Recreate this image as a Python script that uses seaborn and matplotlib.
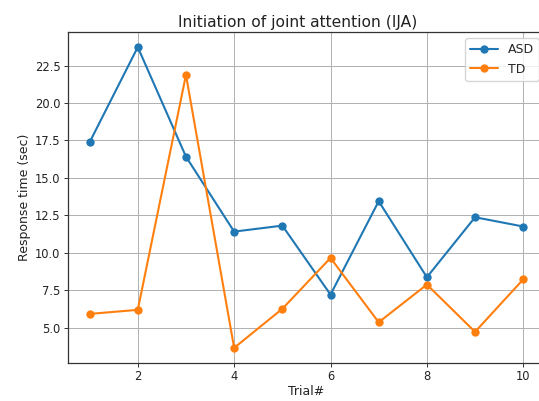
import matplotlib
matplotlib.use("Agg")
import matplotlib.pyplot as plt
import seaborn as sns
import pandas as pd
from matplotlib.ticker import MultipleLocator

trials = [1, 2, 3, 4, 5, 6, 7, 8, 9, 10]
asd = [17.38, 23.74, 16.42, 11.41, 11.81, 7.2, 13.44, 8.36, 12.37, 11.75]
td = [5.91, 6.18, 21.88, 3.64, 6.25, 9.65, 5.35, 7.87, 4.71, 8.22]
series_names = ["ASD", "TD"]
colors = ["#1f77b4", "#ff7f0e"]

sns.set_theme(style="ticks", rc={"axes.grid": True})
plt.rcParams["font.family"] = ["DejaVu Sans"]

fig = plt.figure(figsize=(5.39, 4.01), dpi=100)
ax = fig.add_axes([0.126, 0.095, 0.885, 0.825])

for name, vals, c in zip(series_names, [asd, td], colors):
    df = pd.DataFrame({"Trial": trials, "val": vals})
    sns.lineplot(data=df, x="Trial", y="val", ax=ax, color=c, marker="o",
                 markersize=6, markeredgewidth=0, markeredgecolor=c,
                 linewidth=1.5, label=name)

ax.xaxis.set_major_locator(MultipleLocator(2))
ax.yaxis.set_major_locator(MultipleLocator(2.5))
ax.margins(x=0.05, y=0.05)
ax.grid(True, color="#b0b0b0", linewidth=0.7)
for s in ax.spines.values():
    s.set_color("#333333")
    s.set_linewidth(0.9)
ax.tick_params(axis="both", labelsize=8.3, length=2.8, width=0.7, color="#333333", labelcolor="#222222", pad=2.5)
ax.set_xlabel("Trial#", fontsize=9, labelpad=1, color="#222222")
ax.set_ylabel("Response time (sec)", fontsize=9, labelpad=3, color="#222222")
ax.set_title("Initiation of joint attention (IJA)", fontsize=11.2, pad=4, color="#222222", x=0.481)
leg = ax.legend(loc="upper right", fontsize=9, frameon=True, fancybox=True, framealpha=0.8,
                edgecolor="#cccccc", handlelength=2.2)

fig.savefig("out.png", dpi=100)
